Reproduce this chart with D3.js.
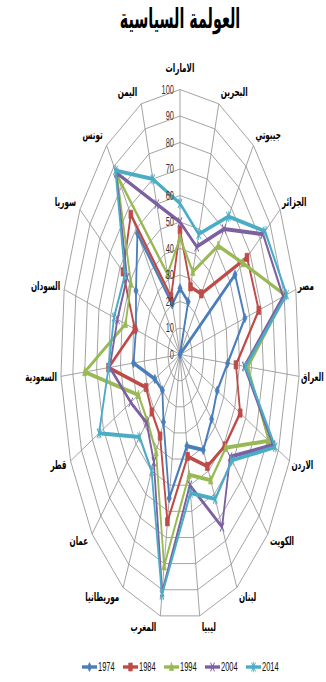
<!DOCTYPE html>
<html>
<head>
<meta charset="utf-8">
<script src="https://cdn.jsdelivr.net/npm/d3@7"></script>
<style>
  html, body { margin: 0; padding: 0; background: #ffffff; }
  svg { display: block; }
</style>
</head>
<body>
<svg id="chart" width="326" height="682"></svg>
<script>
// Political globalization index of Arab countries, five survey years
const chartTitle = "العولمة السياسية";

const countries = ["الامارات", "البحرين", "جيبوتي", "الجزائر", "مصر", "العراق", "الاردن",
  "الكويت", "لبنان", "ليبيا", "المغرب", "موريطانيا", "عمان", "قطر", "السعودية",
  "السودان", "سوريا", "تونس", "اليمن"];

const years = ["1974", "1984", "1994", "2004", "2014"];

const values1974 = [25, 21, 0, 55, 56, 40, 34, 36, 41, 35, 55, 29, 20, 23, 39, 38, 44, 58, 20];
const values1984 = [47, 27, 29, 67, 68, 47, 55, 51, 48, 39, 64, 35, 32, 31, 60, 39, 57, 67, 23];
const values1994 = [44, 33, 52, 63, 91, 57, 81, 52, 54, 46, 81, 42, 37, 38, 80, 47, 49, 86, 32];
const values2004 = [50, 43, 60, 83, 89, 54, 85, 57, 74, 50, 91, 46, 38, 45, 59, 54, 53, 87, 60];
const values2014 = [57, 48, 66, 85, 92, 55, 87, 59, 62, 53, 92, 50, 46, 74, 60, 57, 55, 88, 70];

const tickValues = [0, 10, 20, 30, 40, 50, 60, 70, 80, 90, 100];

const seriesValues = [values1974, values1984, values1994, values2004, values2014];
const seriesColors = ["#4A7EBB", "#BE4B48", "#98B954", "#7D60A0", "#4BACC6"];
const seriesMarkers = ["diamond", "square", "triangle", "cross", "star"];

// ---- layout ----
const cx = 180, cy = 354.5;      // centre of the web
const ry = 265, rx = 119.5;      // the web is stretched into a tall ellipse
const sx = rx / ry;              // horizontal squeeze applied to the plot group
const textSqueeze = 0.6;         // narrow type to match the tall drawing

const svg = d3.select("#chart");

const radius = d3.scaleLinear().domain([0, 100]).range([0, ry]);
const angle = d3.scaleLinear().domain([0, countries.length]).range([0, 2 * Math.PI]);

const px = (i, v) => radius(v) * Math.sin(angle(i));
const py = (i, v) => -radius(v) * Math.cos(angle(i));

// plot group: drawn as a circle, squeezed horizontally
const plot = svg.append("g")
  .attr("transform", `translate(${cx},${cy}) scale(${sx},1)`);

const ring = d3.line().curve(d3.curveLinearClosed);

// concentric grid polygons
plot.append("g").selectAll("path")
  .data(tickValues.filter(t => t > 0))
  .join("path")
  .attr("d", t => ring(countries.map((c, i) => [px(i, t), py(i, t)])))
  .attr("fill", "none")
  .attr("stroke", "#999999")
  .attr("stroke-width", 0.9)
  .attr("vector-effect", "non-scaling-stroke");

// spokes
plot.append("g").selectAll("line")
  .data(countries)
  .join("line")
  .attr("x1", 0).attr("y1", 0)
  .attr("x2", (c, i) => px(i, 100))
  .attr("y2", (c, i) => py(i, 100))
  .attr("stroke", "#999999")
  .attr("stroke-width", 0.9)
  .attr("vector-effect", "non-scaling-stroke");

// marker outlines, in unsqueezed units
function markerPath(kind, s) {
  switch (kind) {
    case "diamond": return `M0,${-s}L${s},0L0,${s}L${-s},0Z`;
    case "square": return `M${-s * 0.9},${-s * 0.9}H${s * 0.9}V${s * 0.9}H${-s * 0.9}Z`;
    case "triangle": return `M0,${-s * 1.05}L${s},${s * 0.8}L${-s},${s * 0.8}Z`;
    case "cross": return `M${-s},${-s}L${s},${s}M${s},${-s}L${-s},${s}`;
    case "star": return `M${-s},${-s}L${s},${s}M${s},${-s}L${-s},${s}M0,${-s * 1.2}V${s * 1.2}`;
  }
}
const openMarker = k => k === "cross" || k === "star";

// series polygons and markers
seriesValues.forEach((vals, k) => {
  const g = plot.append("g");
  const pts = vals.map((v, i) => [px(i, v), py(i, v)]);
  g.append("path")
    .attr("d", ring(pts))
    .attr("fill", "none")
    .attr("stroke", seriesColors[k])
    .attr("stroke-width", 4)
    .attr("stroke-linejoin", "round");
  g.selectAll("path.mk")
    .data(pts)
    .join("path")
    .attr("class", "mk")
    .attr("transform", d => `translate(${d[0]},${d[1]})`)
    .attr("d", markerPath(seriesMarkers[k], 4.6))
    .attr("fill", openMarker(seriesMarkers[k]) ? "none" : seriesColors[k])
    .attr("stroke", seriesColors[k])
    .attr("stroke-width", openMarker(seriesMarkers[k]) ? 1.6 : 1);
});

// narrow text helper
function narrowText(parent, x, y, str, opts) {
  const g = parent.append("g")
    .attr("transform", `translate(${x},${y}) scale(${opts.squeeze || textSqueeze},1)`);
  return g.append("text")
    .attr("x", 0).attr("y", 0)
    .attr("text-anchor", opts.anchor || "middle")
    .attr("dominant-baseline", opts.baseline || "central")
    .attr("font-family", opts.family)
    .attr("font-size", opts.size)
    .attr("font-weight", opts.weight || "normal")
    .attr("fill", opts.fill || "#000")
    .text(str);
}

// value labels along the top spoke
const tickLayer = svg.append("g");
tickValues.forEach(t => {
  narrowText(tickLayer, cx - 6, cy - radius(t), String(t), {
    anchor: "end", family: "'Liberation Sans', Arial, sans-serif", size: 12, fill: "#333333", squeeze: 0.62
  });
});

// category labels around the rim
const labelLayer = svg.append("g");
countries.forEach((name, i) => {
  const a = angle(i), s = Math.sin(a), c = Math.cos(a);
  const ex = cx + rx * s, ey = cy - ry * c;
  let anchor = "middle", x = ex, y;
  if (s > 0.1) { anchor = "start"; x = ex + 2; }
  else if (s < -0.1) { anchor = "end"; x = ex - 4; }
  y = anchor === "middle" ? ey - 22 * c : ey - 12 * c - 1;
  narrowText(labelLayer, x, y, name, {
    anchor, family: "'DejaVu Sans', sans-serif", size: 12, weight: "bold", squeeze: 0.6
  });
});

// title
narrowText(svg, cx, 28, chartTitle, {
  anchor: "middle", baseline: "alphabetic", family: "'DejaVu Sans', sans-serif", size: 27, weight: "bold", squeeze: 0.53
});

// legend
const legend = svg.append("g");
const legendY = 667, swatch = 15, itemStep = 41;
const legendStart = cx - (itemStep * (years.length - 1) + 32) / 2;
years.forEach((yr, k) => {
  const x0 = legendStart + k * itemStep;
  legend.append("line")
    .attr("x1", x0).attr("x2", x0 + swatch)
    .attr("y1", legendY).attr("y2", legendY)
    .attr("stroke", seriesColors[k]).attr("stroke-width", 3.4);
  legend.append("path")
    .attr("transform", `translate(${x0 + swatch / 2},${legendY}) scale(${sx},1)`)
    .attr("d", markerPath(seriesMarkers[k], 4.4))
    .attr("fill", openMarker(seriesMarkers[k]) ? "none" : seriesColors[k])
    .attr("stroke", seriesColors[k])
    .attr("stroke-width", openMarker(seriesMarkers[k]) ? 1.6 : 1);
  narrowText(legend, x0 + swatch + 1, legendY, yr, {
    anchor: "start", family: "'Liberation Sans', Arial, sans-serif", size: 12.5, fill: "#111", squeeze: 0.6
  });
});
</script>
</body>
</html>
